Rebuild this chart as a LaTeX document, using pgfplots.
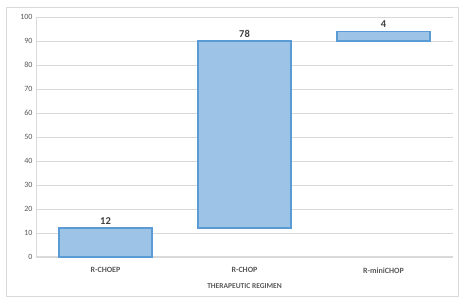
\documentclass[border=0pt]{standalone}
\usepackage{pgfplots}
\pgfplotsset{compat=1.18}
\usepackage{fontspec}
\setmainfont{Carlito}
\definecolor{barfill}{HTML}{9DC3E6}
\definecolor{baredge}{HTML}{5B9BD5}
\definecolor{txt}{HTML}{595959}
\definecolor{gridc}{HTML}{D9D9D9}
\begin{document}
\begin{tikzpicture}[x=1pt,y=1pt]
\path[fill=white] (0,0) rectangle (468,305);
\draw[gridc, line width=0.8pt] (6,9) rectangle (458,298);
\begin{axis}[
  at={(36pt,48pt)}, anchor=south west,
  scale only axis, width=417pt, height=240pt,
  xmin=-0.5, xmax=2.5, ymin=0, ymax=100,
  ybar stacked, bar width=93pt,
  xtick=data, xticklabels={R-CHOEP,R-CHOP,R-miniCHOP},
  ytick={0,10,...,100},
  major tick length=0pt,
  axis x line*=bottom, axis y line*=left,
  axis line style={gridc, line width=1pt},
  ymajorgrids, grid style={gridc, line width=0.8pt},
  tick label style={txt, font=\fontsize{8}{10}\selectfont},
  xticklabel style={font=\fontsize{8}{10}\selectfont\bfseries, yshift=-7pt},
  /pgf/number format/assume math mode=true,
  xlabel={THERAPEUTIC REGIMEN},
  xlabel style={txt, font=\fontsize{7.5}{9}\selectfont\bfseries, yshift=-4pt},
  clip=false,
]
\addplot[draw=none, fill=none] coordinates {(0,0) (1,12) (2,90)};
\addplot[fill=barfill, draw=baredge, line width=1.5pt]
  coordinates {(0,12) (1,78) (2,4)};
\end{axis}
\begin{axis}[
  at={(36pt,48pt)}, anchor=south west,
  scale only axis, width=417pt, height=240pt,
  xmin=-0.5, xmax=2.5, ymin=0, ymax=100,
  hide axis, clip=false,
  /pgf/number format/assume math mode=true,
]
\addplot[draw=none, mark=none, point meta=explicit, nodes near coords,
  every node near coord/.append style={font=\fontsize{10.5}{12}\selectfont\bfseries, text=black!75, anchor=south, yshift=0pt}]
  table[meta=v] {
  x y v
  0 12 12
  1 90 78
  2 94 4
  };
\end{axis}
\end{tikzpicture}
\end{document}
